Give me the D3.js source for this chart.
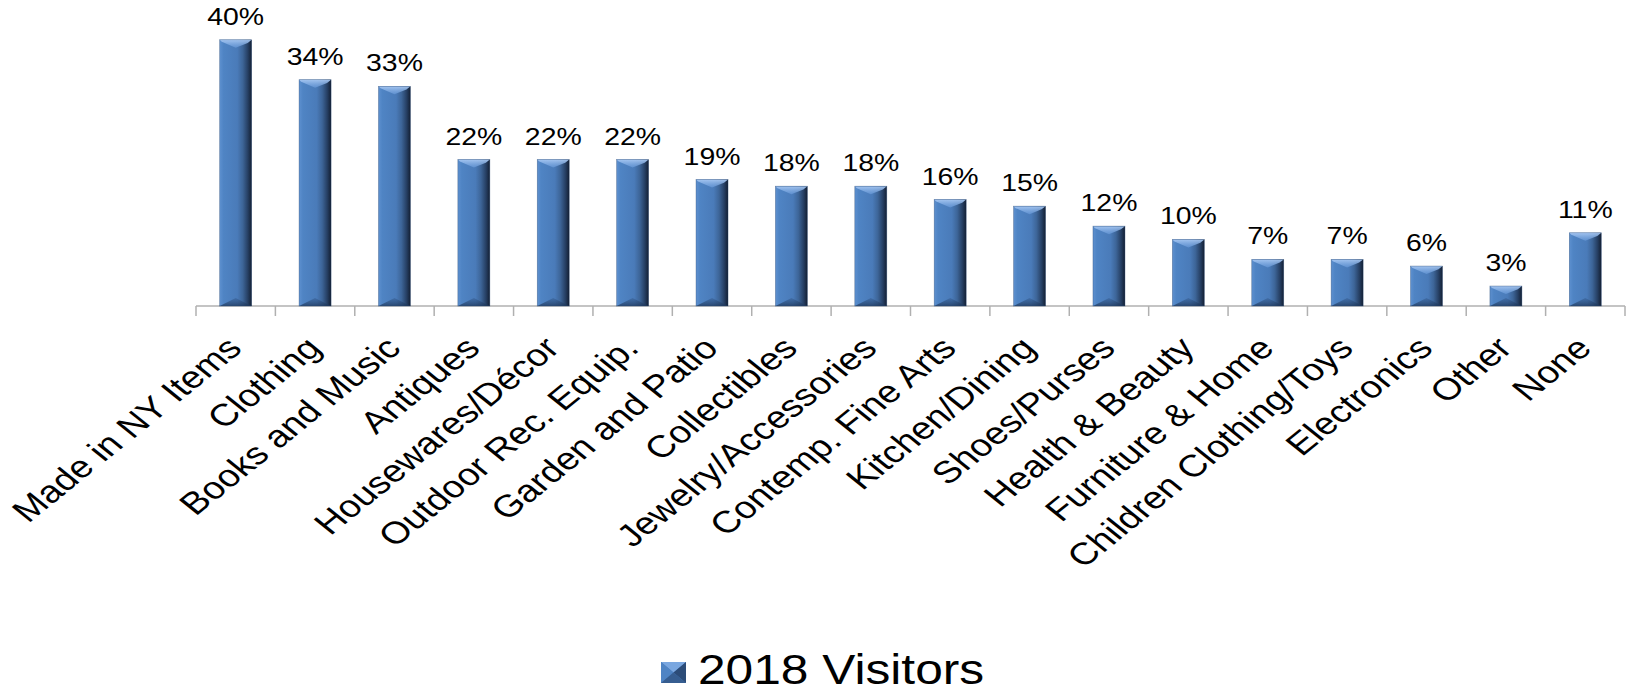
<!DOCTYPE html>
<html>
<head>
<meta charset="utf-8">
<script src="https://cdn.jsdelivr.net/npm/d3@7"></script>
<style>
  html, body { margin: 0; padding: 0; background: #ffffff; }
  svg { display: block; }
  text { font-family: "Liberation Sans", Arial, sans-serif; fill: #000; }
</style>
</head>
<body>
<svg id="chart" width="1629" height="692"></svg>
<script>
// Items purchased, share of 2018 visitors (%)
const categories = [
  "Made in NY Items", "Clothing", "Books and Music", "Antiques",
  "Housewares/Décor", "Outdoor Rec. Equip.", "Garden and Patio", "Collectibles",
  "Jewelry/Accessories", "Contemp. Fine Arts", "Kitchen/Dining", "Shoes/Purses",
  "Health & Beauty", "Furniture & Home", "Children Clothing/Toys", "Electronics",
  "Other", "None"
];
const visitors2018 = [40, 34, 33, 22, 22, 22, 19, 18, 18, 16, 15, 12, 10, 7, 7, 6, 3, 11];
const seriesName = "2018 Visitors";

const plotLeft = 196, plotRight = 1625, plotBase = 306, plotTop = 6.5;
const sx = 1.22;     // horizontal stretch of value labels
const sxCat = 1.24;  // horizontal stretch of category labels
const sxLeg = 1.155; // horizontal stretch of legend text

const svg = d3.select("#chart");
const defs = svg.append("defs");

// Bar body: lighter left edge, darkening toward the right edge
const gBody = defs.append("linearGradient").attr("id", "barBody")
  .attr("x1", 0).attr("y1", 0).attr("x2", 1).attr("y2", 0);
[[0, "#5d90cf"], [0.12, "#4f84c4"], [0.55, "#4a7bb9"], [0.72, "#3d6598"],
 [0.88, "#263f63"], [1, "#131f33"]].forEach(([o, c]) =>
  gBody.append("stop").attr("offset", o).attr("stop-color", c));

// Top bevel highlight
const gTop = defs.append("linearGradient").attr("id", "barTop")
  .attr("x1", 0).attr("y1", 0).attr("x2", 0).attr("y2", 1);
[[0, "#a8c8f2", 0.95], [1, "#6e9fde", 0.6]].forEach(([o, c, a]) =>
  gTop.append("stop").attr("offset", o).attr("stop-color", c).attr("stop-opacity", a));

// Bottom bevel shade
const gBot = defs.append("linearGradient").attr("id", "barBot")
  .attr("x1", 0).attr("y1", 0).attr("x2", 0).attr("y2", 1);
[[0, "#2d5080", 0.35], [1, "#1e3658", 0.75]].forEach(([o, c, a]) =>
  gBot.append("stop").attr("offset", o).attr("stop-color", c).attr("stop-opacity", a));

const x = d3.scaleBand().domain(categories).range([plotLeft, plotRight])
  .paddingInner(0.597).paddingOuter(0.2985);
const xEdge = d3.scaleBand().domain(categories).range([plotLeft, plotRight]).padding(0);
const y = d3.scaleLinear().domain([0, 45]).range([plotBase, plotTop]);

// Category axis: baseline and boundary ticks
const axis = svg.append("g");
axis.append("line")
  .attr("x1", plotLeft).attr("x2", plotRight).attr("y1", plotBase).attr("y2", plotBase)
  .attr("stroke", "#b0b0b0").attr("stroke-width", 1.5);
const edges = categories.map(c => xEdge(c))
  .concat([xEdge(categories[categories.length - 1]) + xEdge.bandwidth()]);
axis.selectAll("line.tick").data(edges).join("line").attr("class", "tick")
  .attr("x1", d => d).attr("x2", d => d).attr("y1", plotBase).attr("y2", plotBase + 10)
  .attr("stroke", "#b0b0b0").attr("stroke-width", 1.5);

const rows = categories.map((c, i) => ({ c, v: visitors2018[i] }));

// Bevelled bars
const bars = svg.append("g").selectAll("g.bar")
  .data(rows)
  .join("g").attr("class", "bar");

bars.each(function (d) {
  const g = d3.select(this);
  const x0 = x(d.c), w = x.bandwidth(), x1 = x0 + w, cx = x0 + w / 2;
  const y0 = y(d.v), y1 = y(0), h = y1 - y0;
  const b = Math.min(8, h / 2);
  g.append("rect").attr("x", x0).attr("y", y0).attr("width", w).attr("height", h)
    .attr("fill", "url(#barBody)");
  g.append("path")
    .attr("d", `M${x0},${y0}L${x1},${y0}L${x1 - 4},${y0 + b * 0.4}L${cx},${y0 + b}L${x0 + 2},${y0 + b * 0.25}Z`)
    .attr("fill", "url(#barTop)");
  g.append("path")
    .attr("d", `M${x0},${y1}L${x1},${y1}L${cx},${y1 - b}Z`)
    .attr("fill", "url(#barBot)");
  g.append("rect").attr("x", x0).attr("y", y0).attr("width", w).attr("height", h)
    .attr("fill", "none").attr("stroke", "#2a4a74").attr("stroke-width", 0.6).attr("stroke-opacity", 0.6);
});

// Value labels
svg.append("g").selectAll("text")
  .data(rows)
  .join("text")
  .attr("transform", d => `translate(${x(d.c) + x.bandwidth() / 2},${y(d.v) - 15}) scale(${sx},1)`)
  .attr("text-anchor", "middle")
  .style("font-size", "23.3px")
  .text(d => d.v + "%");

// Category labels, rotated
svg.append("g").selectAll("text")
  .data(categories)
  .join("text")
  .attr("transform", c => `translate(${x(c) + x.bandwidth() / 2 + 8},${plotBase + 44}) scale(${sxCat},1) rotate(-45)`)
  .attr("text-anchor", "end")
  .style("font-size", "31px")
  .text(c => c);

// Legend
const lg = svg.append("g");
const mx0 = 661, my0 = 662, mw = 25, mh = 21, mcx = mx0 + mw / 2, mcy = my0 + mh / 2;
lg.append("rect").attr("x", mx0).attr("y", my0).attr("width", mw).attr("height", mh).attr("fill", "#4a7bb9");
lg.append("path").attr("d", `M${mx0},${my0}L${mx0 + mw},${my0}L${mcx},${mcy}Z`).attr("fill", "#7aa7e0");
lg.append("path").attr("d", `M${mx0},${my0}L${mcx},${mcy}L${mx0},${my0 + mh}Z`).attr("fill", "#4f84c4");
lg.append("path").attr("d", `M${mx0 + mw},${my0}L${mcx},${mcy}L${mx0 + mw},${my0 + mh}Z`).attr("fill", "#2c4c78");
lg.append("path").attr("d", `M${mx0},${my0 + mh}L${mcx},${mcy}L${mx0 + mw},${my0 + mh}Z`).attr("fill", "#365d90");
lg.append("text")
  .attr("transform", `translate(698,684) scale(${sxLeg},1)`)
  .style("font-size", "43px")
  .text(seriesName);
</script>
</body>
</html>
